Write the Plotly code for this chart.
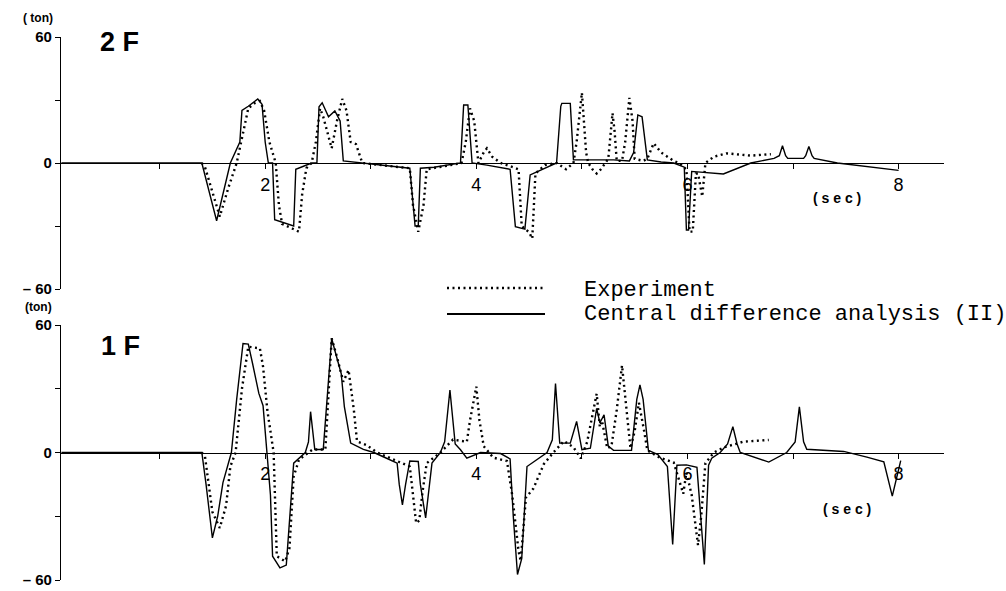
import plotly.graph_objects as go

# ---------------- data (time in sec, force in ton) ----------------
top_ana_t = [0.07, 1.40, 1.54, 1.67, 1.76, 1.78, 1.84, 1.89, 1.93, 1.97, 2.00, 2.03, 2.07, 2.09, 2.27, 2.29,
             2.44, 2.49, 2.51, 2.54, 2.60, 2.66, 2.71, 2.74, 2.92, 3.37, 3.42, 3.45, 3.47, 3.60, 3.85, 3.88,
             3.92, 3.96, 4.10, 4.32, 4.37, 4.46, 4.51, 4.76, 4.80, 4.81, 4.89, 4.92, 5.30, 5.45, 5.49, 5.53,
             5.57, 5.62, 5.75, 5.87, 5.97, 5.99, 6.01, 6.04, 6.34, 6.60, 6.82, 6.87, 6.90, 6.93, 6.95, 7.10,
             7.12, 7.15, 7.18, 7.20, 7.42, 8.00]
top_ana_v = [0, 0, -27.5, 0, 10, 25, 27, 29, 30.5, 28, 10, 0, 0, -27, -30, -3,
             0, 0, 26.8, 28.7, 22, 24.8, 20, 1, 0, -2.5, -30, -30, -2.5, -2, 0, 27.6,
             27.6, 0, -1, -3, -30.3, -31.5, -5.7, 0, 27, 28.4, 28.4, 1.5, 1.5, 1, 5, 22.9,
             22, 1.5, 0.5, 0, -2, -31.9, -31.9, -4, -5.2, 0, 2.2, 3.5, 8.2, 3.5, 2.2, 2.2,
             3.5, 7.9, 3.5, 2.2, 0, -3.5]

top_exp_t = [1.40, 1.43, 1.57, 1.65, 1.73, 1.78, 1.84, 1.90, 1.95, 1.99, 2.04, 2.10, 2.13, 2.16, 2.25, 2.32,
             2.35, 2.39, 2.44, 2.48, 2.52, 2.55, 2.63, 2.68, 2.73, 2.77, 2.81, 2.86, 2.90, 2.92, 3.10, 3.37,
             3.40, 3.45, 3.50, 3.53, 3.70, 3.86, 3.90, 3.94, 3.98, 4.02, 4.07, 4.10, 4.15, 4.23, 4.35, 4.40,
             4.43, 4.50, 4.53, 4.56, 4.65, 4.76, 4.85, 4.92, 4.95, 5.00, 5.04, 5.06, 5.10, 5.14, 5.18, 5.22,
             5.25, 5.29, 5.31, 5.33, 5.38, 5.41, 5.45, 5.48, 5.50, 5.58, 5.62, 5.68, 5.75, 5.87, 5.92, 5.99,
             6.02, 6.05, 6.08, 6.10, 6.14, 6.17, 6.25, 6.37, 6.50, 6.60, 6.79]
top_exp_v = [0, -2, -25.5, -12, 0, 12, 26, 28.5, 29.5, 25, 10, 0, -20, -29, -31, -32.7,
             -15, -2.5, 0, 10, 26, 22, 7, 20, 30.5, 25, 10, 9, 3, 0, -1, -2.5,
             -20, -32.7, -20, -3, -1.5, 0, 10, 26, 20, 0, 5, 7, 3, 0, -2, -3,
             -30, -33, -36, -5, -1, 0, -3, 0, 10, 33.5, 5, 0, -3, -5, -3, 0,
             2, 23.7, 15, 1, 1, 10, 31, 20, 2, 1, 2, 9.4, 5, 1, 0, -3,
             -32.7, -32.7, -5, -5, -16, 0, 3, 4.6, 4, 3.5, 4.2]

bot_ana_t = [0.07, 1.40, 1.44, 1.50, 1.55, 1.60, 1.68, 1.73, 1.79, 1.84, 1.88, 1.94, 1.98, 2.02, 2.05, 2.07,
             2.14, 2.20, 2.25, 2.27, 2.38, 2.41, 2.43, 2.46, 2.47, 2.55, 2.59, 2.63, 2.66, 2.72, 2.75, 2.81,
             2.93, 3.03, 3.15, 3.25, 3.27, 3.30, 3.33, 3.37, 3.45, 3.47, 3.52, 3.56, 3.58, 3.66, 3.70, 3.75,
             3.80, 3.85, 3.91, 4.04, 4.23, 4.32, 4.35, 4.39, 4.43, 4.48, 4.67, 4.72, 4.75, 4.79, 4.89, 4.95,
             5.00, 5.08, 5.14, 5.17, 5.21, 5.25, 5.30, 5.47, 5.52, 5.55, 5.58, 5.63, 5.72, 5.81, 5.86, 5.90,
             5.99, 6.09, 6.16, 6.20, 6.23, 6.31, 6.38, 6.43, 6.47, 6.50, 6.77, 6.94, 7.02, 7.06, 7.10, 7.13,
             7.48, 7.70, 7.86, 7.94, 8.02]
bot_ana_v = [0, 0, -15, -40.2, -30, -14.2, 0, 25, 51.3, 51, 42, 27.8, 22, 0, -20, -48.8,
             -54.3, -53, -20, -5, 0, 5, 19.2, 5, 1.4, 1.4, 30, 53.7, 48, 37.2, 21.6, 4.4,
             1.5, 0, -2.7, -5, -15, -24.6, -15, -4, -4.2, -15, -30.8, -15, -5, 0, 5, 29.4,
             4, 1.3, -2.7, 0, -0.5, -3, -30, -57.4, -50, -6.6, 0, 6, 32.5, 4.4, 4.4, 14.6,
             1.3, 2, 20.8, 14, 17.7, 3, 1, 1, 25, 31.8, 25, 1, -1, -6.6, -43.3, -6,
             -5.8, -7, -52.7, -6, -2.7, 0, 4, 12.2, 4, 0, -4.5, 0, 5, 21.5, 5, 1.5,
             0.5, -2.2, -4.4, -20.5, -3.8]

bot_exp_t = [1.40, 1.43, 1.50, 1.57, 1.63, 1.67, 1.72, 1.78, 1.84, 1.90, 1.95, 1.98, 2.02, 2.08, 2.11, 2.19,
             2.23, 2.27, 2.32, 2.41, 2.45, 2.57, 2.60, 2.63, 2.68, 2.74, 2.79, 2.84, 2.87, 2.96, 3.06, 3.22,
             3.37, 3.43, 3.46, 3.49, 3.53, 3.66, 3.78, 3.91, 3.94, 4.00, 4.03, 4.07, 4.16, 4.29, 4.34, 4.40,
             4.42, 4.47, 4.51, 4.54, 4.64, 4.73, 4.83, 4.92, 4.99, 5.05, 5.14, 5.17, 5.19, 5.24, 5.28, 5.33,
             5.38, 5.42, 5.46, 5.50, 5.54, 5.59, 5.62, 5.74, 5.87, 5.96, 5.99, 6.04, 6.10, 6.13, 6.17, 6.25,
             6.35, 6.53, 6.77]
bot_exp_v = [0, -2, -28, -35.5, -25, -6.6, 0, 30, 49.8, 49.5, 49, 40.4, 20, 0, -48.8, -51.2,
             -45, -11.3, -3.4, 0, 1.4, 1.4, 30, 53.7, 45, 33.3, 38.8, 20, 5.2, 3.5, 0, -3.4,
             -6.6, -33.2, -32, -18.7, -5, 0, 6.1, 5, 15, 31, 15, 3, -2.4, -4, -20, -46.3,
             -51, -21.2, -19, -17, -5.4, 0, 5.4, 2.5, -2.8, 5, 27.7, 12, 15, 2, 3, 20,
             41, 20, 2, 10, 23.4, 10, 1, -2.5, -4.7, -19.4, -9.4, -20, -43.6, -30, -5, 0,
             2.5, 5.1, 5.9]

x_tick_vals = [1, 2, 3, 4, 5, 6, 7, 8]
x_tick_text = ["", "2", "", "4", "", "6", "", "8"]
y_tick_vals = [-60, -30, 0, 30, 60]
y_tick_text = ["\u2013 60", "", "0", "", "60"]

# ---------------- layout helpers ----------------
W, H = 1006, 591


def px(xp):
    return xp / W


def py(yp):
    return 1 - yp / H


DOT = "2px,3.5px"
x_tick_font = dict(family="Liberation Sans", size=18, color="black")
y_tick_font = dict(family="Liberation Sans", size=15, color="black", weight="bold")

fig = go.Figure()
fig.add_trace(go.Scatter(x=top_exp_t, y=top_exp_v, mode="lines", xaxis="x", yaxis="y",
                         line=dict(color="black", width=2.4, dash=DOT), showlegend=False))
fig.add_trace(go.Scatter(x=top_ana_t, y=top_ana_v, mode="lines", xaxis="x", yaxis="y",
                         line=dict(color="black", width=1.4), showlegend=False))
fig.add_trace(go.Scatter(x=bot_exp_t, y=bot_exp_v, mode="lines", xaxis="x2", yaxis="y2",
                         line=dict(color="black", width=2.4, dash=DOT), showlegend=False))
fig.add_trace(go.Scatter(x=bot_ana_t, y=bot_ana_v, mode="lines", xaxis="x2", yaxis="y2",
                         line=dict(color="black", width=1.4), showlegend=False))

x_range = [0.066, 8.43]
top_dom = [py(289), py(37)]
bot_dom = [py(580), py(325)]


def xax(pos):
    return dict(domain=[px(61), px(944)], range=x_range, anchor="free", position=pos,
                showline=True, linecolor="black", linewidth=1.3, ticks="outside", ticklen=5,
                tickcolor="black", tickvals=x_tick_vals, ticktext=x_tick_text, tickfont=x_tick_font,
                showgrid=False, zeroline=False, fixedrange=True, automargin=False,
                ticklabeloverflow="allow")


def yax(dom, anchor):
    return dict(domain=dom, range=[-60, 60], anchor=anchor, showline=True, linecolor="black",
                linewidth=1.1, ticks="outside", ticklen=5, tickcolor="black", tickvals=y_tick_vals,
                ticktext=y_tick_text, tickfont=y_tick_font, showgrid=False, zeroline=False,
                automargin=False, ticklabeloverflow="allow")


fig.update_layout(
    width=W, height=H, margin=dict(l=0, r=0, t=0, b=0, pad=0), autosize=False,
    paper_bgcolor="white", plot_bgcolor="white",
    xaxis=xax((top_dom[0] + top_dom[1]) / 2),
    yaxis=yax(top_dom, "x"),
    xaxis2=xax((bot_dom[0] + bot_dom[1]) / 2),
    yaxis2=yax(bot_dom, "x2"),
)

ann_font = dict(family="Liberation Sans", color="black", weight="bold")
mono = dict(family="Liberation Mono", size=22, color="black")
annotations = [
    dict(text="( ton)", x=px(38), y=py(18), font=dict(size=12, **ann_font)),
    dict(text="(ton)", x=px(38), y=py(307), font=dict(size=12, **ann_font)),
    dict(text="2 F", x=px(119), y=py(42), font=dict(size=27, **ann_font)),
    dict(text="1 F", x=px(120), y=py(346), font=dict(size=27, **ann_font)),
    dict(text="( s e c )", x=px(837), y=py(198), font=dict(size=14, **ann_font)),
    dict(text="( s e c )", x=px(847), y=py(509), font=dict(size=14, **ann_font)),
    dict(text="Experiment", x=px(582), y=py(290), xanchor="left", font=mono),
    dict(text="Central difference analysis (II)", x=px(582), y=py(314), xanchor="left", font=mono),
]
for a in annotations:
    a.setdefault("xanchor", "center")
    a.update(xref="paper", yref="paper", yanchor="middle", showarrow=False)
fig.update_layout(annotations=annotations)

fig.add_shape(type="line", xref="paper", yref="paper", x0=px(447), x1=px(545), y0=py(288), y1=py(288),
              line=dict(color="black", width=2.4, dash=DOT))
fig.add_shape(type="line", xref="paper", yref="paper", x0=px(447), x1=px(545), y0=py(314), y1=py(314),
              line=dict(color="black", width=1.8))

fig.write_html("out.html", config={"displayModeBar": False},
               post_script="document.body.style.margin='0';document.body.style.overflow='hidden';")
